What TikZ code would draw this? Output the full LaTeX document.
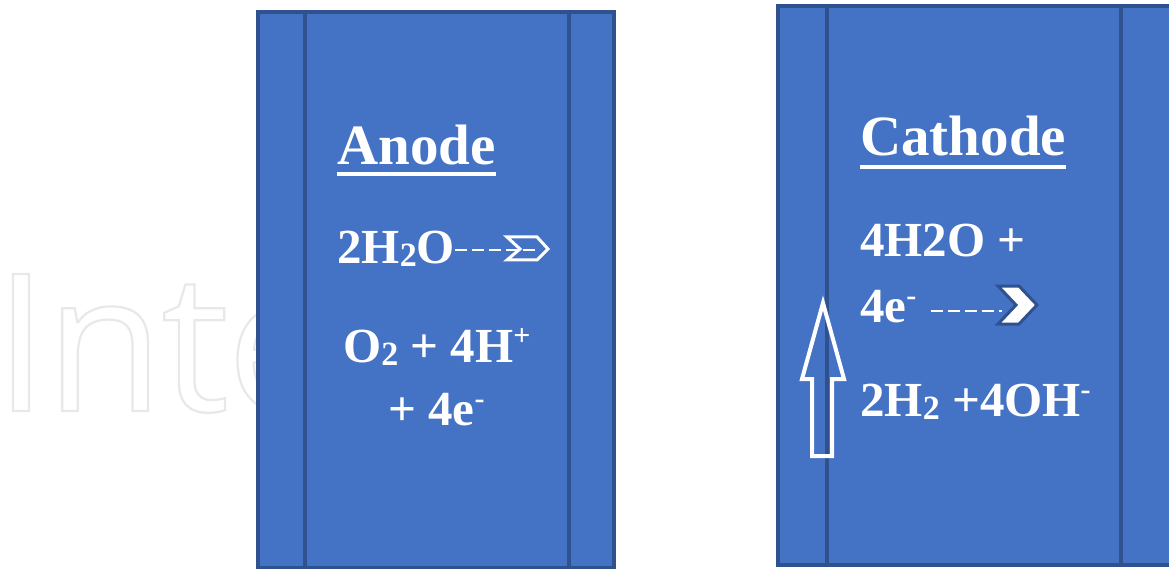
\documentclass[tikz,border=0pt]{standalone}
\usepackage{fontspec}
\setmainfont{Liberation Serif}
\newfontfamily\wmfont[LetterSpace=-1.2]{Open Sans}
\definecolor{panelfill}{HTML}{4472C4}
\definecolor{paneledge}{HTML}{2F528F}
\definecolor{wmgray}{HTML}{E8E8E8}
\newcommand\chsub[1]{\raisebox{-3pt}{\fontsize{34}{34}\selectfont #1}}
\newcommand\chsup[1]{\raisebox{17pt}{\fontsize{30}{30}\selectfont #1}}
\tikzset{
 panel/.style={fill=panelfill, draw=paneledge, line width=4pt},
 divider/.style={draw=paneledge, line width=4pt},
 heading/.style={inner sep=0pt, anchor=base west, text=white, font=\fontsize{57}{60}\selectfont\bfseries},
 eqtext/.style={inner sep=0pt, anchor=base west, text=white, font=\fontsize{49}{52}\selectfont\bfseries},
 uline/.style={draw=white, line width=4.5pt},
 dashlink/.style={draw=white, line width=2.5pt, dash pattern=on 12pt off 5pt},
 hollowhead/.style={draw=white, line width=3pt, line join=miter},
 solidhead/.style={fill=white, draw=paneledge, line width=3pt, line join=miter},
 blockarrow/.style={draw=white, line width=4pt, line join=miter},
 wmtext/.style={inner sep=0pt, anchor=base west, text=wmgray, font=\fontsize{192}{192}\selectfont\wmfont},
}
\begin{document}
\begin{tikzpicture}[x=1pt,y=-1pt]
\useasboundingbox[fill=white] (0,0) rectangle (1169,569);
% watermark (outlined text)
\node[wmtext] (wm) at (-6,411) {\special{pdf:literal direct 1 Tr 2.2 w 0.91 0.91 0.91 RG}Inte\special{pdf:literal direct 0 Tr}};
% panels
\draw[panel] (258,12) rectangle (614,568);
\draw[divider] (305,12) -- (305,568);
\draw[divider] (569,12) -- (569,568);
\draw[panel] (778,6) rectangle (1173,565);
\draw[divider] (827,6) -- (827,565);
\draw[divider] (1121,6) -- (1121,565);
% anode
\node[heading] (anode) at (337,165) {Anode};
\draw[uline] ([yshift=-9pt]anode.base west) -- ([yshift=-9pt]anode.base east);
\node[eqtext] (a1) at (337,263) {2H\chsub{2}O};
\coordinate (a1end) at (537,250);
\draw[dashlink] ([yshift=13pt]a1.base east) -- (a1end);
\draw[hollowhead] (507,237) -- (537,237) -- (548,249) -- (537,260) -- (507,260) -- (520,249) -- cycle;
\node[eqtext] (a2) at (343,362) {O\chsub{2} + 4H\chsup{+}};
\node[eqtext] (a3) at (388,425) {+ 4e\chsup{-}};
% cathode
\node[heading] (cathode) at (860,156) {Cathode};
\draw[uline] ([yshift=-11pt]cathode.base west) -- ([yshift=-11pt]cathode.base east);
\node[eqtext] (c1) at (860,257) {4H2O +};
\node[eqtext] (c2) at (860,322) {4e\chsup{-}};
\coordinate (c2end) at (1002,311);
\draw[dashlink] ([xshift=14pt,yshift=11pt]c2.base east) -- (c2end);
\draw[solidhead] (998,286) -- (1019,286) -- (1037,305) -- (1019,324) -- (998,324) -- (1016,305) -- cycle;
\node[eqtext] (c3) at (860,416) {2H\chsub{2} +4OH\chsup{-}};
% up arrow
\draw[blockarrow] (823,303) -- (844,379) -- (832,379) -- (832,456) -- (812,456) -- (812,379) -- (802,379) -- cycle;
\end{tikzpicture}
\end{document}
